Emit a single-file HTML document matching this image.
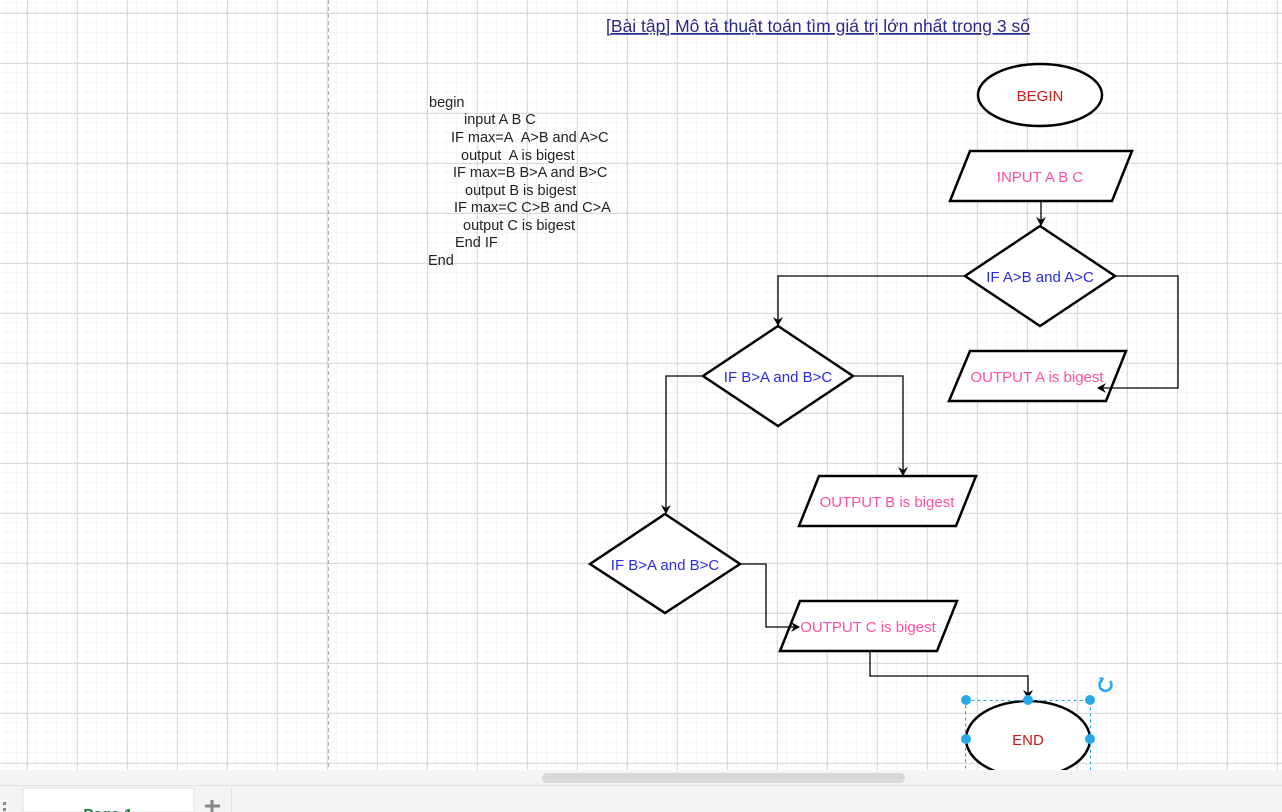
<!DOCTYPE html>
<html><head><meta charset="utf-8"><style>
body{margin:0;width:1282px;height:812px;overflow:hidden;background:#fff;font-family:"Liberation Sans","Noto Sans CJK SC",sans-serif}
svg{position:absolute;left:0;top:0}
</style></head><body>
<svg width="1282" height="812" xmlns="http://www.w3.org/2000/svg" font-family="Liberation Sans, Noto Sans CJK SC, sans-serif">
<defs>
<pattern id="minor" x="7" y="3" width="10" height="10" patternUnits="userSpaceOnUse"><path d="M10 0V10M0 10H10" stroke="#eeeeee" stroke-width="1" fill="none"/></pattern>
<pattern id="major" x="27" y="13" width="50" height="50" patternUnits="userSpaceOnUse"><path d="M0.5 0V50M0 0.5H50" stroke="#dcdcdc" stroke-width="1" fill="none"/></pattern>
<marker id="a" markerWidth="10" markerHeight="10" refX="8" refY="5" orient="auto" markerUnits="userSpaceOnUse"><path d="M0 0L9 5L0 10L3 5Z" fill="#000"/></marker>
</defs>
<rect width="1282" height="770" fill="url(#minor)"/>
<rect width="1282" height="770" fill="url(#major)"/>
<line x1="328.5" y1="0" x2="328.5" y2="770" stroke="#b0b0b0" stroke-dasharray="4 3"/>
<text x="818" y="32" text-anchor="middle" font-size="17.5" fill="#2a2a8a" text-decoration="underline">[Bài tập] Mô tả thuật toán tìm giá trị lớn nhất trong 3 số</text>
<g font-size="14.5" fill="#222">
<text x="429" y="107">begin</text>
<text x="464" y="124">input A B C</text>
<text x="451" y="142">IF max=A&#160; A&gt;B and A&gt;C</text>
<text x="461" y="160">output&#160; A is bigest</text>
<text x="453" y="177">IF max=B B&gt;A and B&gt;C</text>
<text x="465" y="195">output B is bigest</text>
<text x="454" y="212">IF max=C C&gt;B and C&gt;A</text>
<text x="463" y="230">output C is bigest</text>
<text x="455" y="247">End IF</text>
<text x="428" y="265">End</text>
</g>
<g fill="#fff" stroke="#000" stroke-width="2.5">
<ellipse cx="1040" cy="95" rx="62" ry="31"/>
<path d="M970 151H1132L1112 201H950Z"/>
<path d="M1040 226L1115 276L1040 326L965 276Z"/>
<path d="M970 351H1126L1106 401H949Z"/>
<path d="M778 326L853 376L778 426L703 376Z"/>
<path d="M819 476H976L956 526H799Z"/>
<path d="M665 514L740 564L665 613L590 564Z"/>
<path d="M800 601H957L937 651H780Z"/>
<ellipse cx="1028" cy="739" rx="62" ry="38"/>
</g>
<g fill="none" stroke="#000" stroke-width="1.3">
<path d="M1041 201V225" marker-end="url(#a)"/>
<path d="M965 276H778V325" marker-end="url(#a)"/>
<path d="M1115 276H1178V388H1098" marker-end="url(#a)"/>
<path d="M853 376H903V475" marker-end="url(#a)"/>
<path d="M703 376H666V513" marker-end="url(#a)"/>
<path d="M740 564H766V627H799" marker-end="url(#a)"/>
<path d="M870 651V676H1028V698" marker-end="url(#a)"/>
</g>
<g font-size="15" text-anchor="middle">
<text x="1040" y="101" fill="#d01818">BEGIN</text>
<text x="1040" y="182" fill="#ff4fa0">INPUT A B C</text>
<text x="1040" y="282" fill="#2a2ae8">IF A&gt;B and A&gt;C</text>
<text x="1037" y="382" fill="#ff4fa0">OUTPUT A is bigest</text>
<text x="778" y="382" fill="#2a2ae8">IF B&gt;A and B&gt;C</text>
<text x="887" y="507" fill="#ff4fa0">OUTPUT B is bigest</text>
<text x="665" y="570" fill="#2a2ae8">IF B&gt;A and B&gt;C</text>
<text x="868" y="632" fill="#ff4fa0">OUTPUT C is bigest</text>
<text x="1028" y="745" fill="#d01818">END</text>
</g>
<rect x="965.5" y="700.5" width="125" height="80" fill="none" stroke="#29a8e8" stroke-dasharray="3 3"/>
<g fill="#29a8e8">
<circle cx="966" cy="700" r="5"/><circle cx="1028" cy="700" r="5"/><circle cx="1090" cy="700" r="5"/>
<circle cx="966" cy="739" r="5"/><circle cx="1090" cy="739" r="5"/>
</g>
<path d="M1110 681a6 6 0 1 1 -8 -1" fill="none" stroke="#29a8e8" stroke-width="2.5"/>
<path d="M1099 677l5 1l-2 5z" fill="#29a8e8"/>
<rect x="0" y="770" width="1282" height="42" fill="#f3f4f6"/>
<line x1="0" y1="785.5" x2="1282" y2="785.5" stroke="#e2e2e2"/>
<rect x="542" y="773" width="363" height="10" rx="5" fill="#d8d8d8"/>
<rect x="23" y="788" width="171" height="24" fill="#fff" stroke="#e0e0e0"/>
<text x="108" y="819" text-anchor="middle" font-size="15" font-weight="bold" fill="#1a7a3a">Page-1</text>
<path d="M212 800V812M205 806H220" stroke="#888" stroke-width="3"/>
<line x1="231.5" y1="788" x2="231.5" y2="812" stroke="#e0e0e0"/>
<rect x="3" y="802" width="3" height="3" fill="#888"/><rect x="3" y="808" width="3" height="3" fill="#888"/>
</svg>
</body></html>
